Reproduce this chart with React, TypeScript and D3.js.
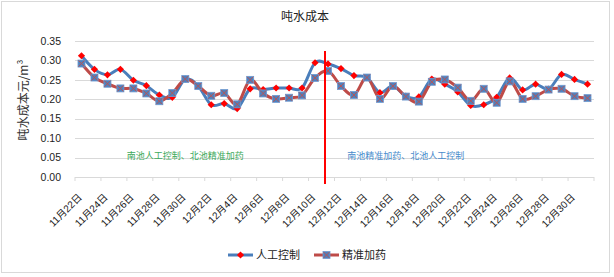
import React from "react";
import * as d3 from "d3";

const categories = [
  "11月22日","11月23日","11月24日","11月25日","11月26日","11月27日","11月28日","11月29日","11月30日",
  "12月1日","12月2日","12月3日","12月4日","12月5日","12月6日","12月7日","12月8日","12月9日","12月10日",
  "12月11日","12月12日","12月13日","12月14日","12月15日","12月16日","12月17日","12月18日","12月19日","12月20日",
  "12月21日","12月22日","12月23日","12月24日","12月25日","12月26日","12月27日","12月28日","12月29日","12月30日","12月31日",
];

// 人工控制
const manualValues = [
  0.312, 0.277, 0.263, 0.277, 0.249, 0.235, 0.211, 0.205, 0.252, 0.234,
  0.186, 0.189, 0.176, 0.227, 0.225, 0.229, 0.229, 0.229, 0.294, 0.291,
  0.279, 0.261, 0.256, 0.217, 0.234, 0.208, 0.206, 0.252, 0.239, 0.219,
  0.184, 0.186, 0.205, 0.255, 0.224, 0.239, 0.226, 0.264, 0.251, 0.239,
];

// 精准加药
const preciseValues = [
  0.292, 0.256, 0.240, 0.228, 0.228, 0.215, 0.195, 0.216, 0.252, 0.234,
  0.209, 0.216, 0.187, 0.250, 0.215, 0.201, 0.204, 0.210, 0.255, 0.273,
  0.234, 0.211, 0.256, 0.201, 0.234, 0.207, 0.194, 0.245, 0.251, 0.230,
  0.196, 0.227, 0.191, 0.246, 0.201, 0.208, 0.225, 0.227, 0.208, 0.203,
];

const yTicks = [0, 0.05, 0.1, 0.15, 0.2, 0.25, 0.3, 0.35];
const seriesNames = ["人工控制", "精准加药"];
const dividerIndex = 18.8; // red divider between 12月10日 and 12月11日
const dividerTop = 0.324;
const notes = [
  { text: "南池人工控制、北池精准加药", index: 8, value: 0.047, color: "#3daa5c" },
  { text: "南池精准加药、北池人工控制", index: 25, value: 0.047, color: "#4a8ccc" },
];

const W = 614;
const H = 277;
const left = 75;
const right = 594;
const top = 41;
const bottom = 177;

const BLUE = "#4a7ebb";
const RED = "#be4b48";

export default function App() {
  const x = d3.scaleBand<string>().domain(categories).range([left, right]).padding(0);
  const bw = x.bandwidth();
  const cx = (i: number) => left + bw * (i + 0.5);
  const y = d3.scaleLinear().domain([0, 0.35]).range([bottom, top]);

  const line = d3
    .line<number>()
    .x((_, i) => cx(i))
    .y((d) => y(d))
    .curve(d3.curveCardinal.tension(0));

  const tickBounds = categories
    .map((c, i) => ({ c, i }))
    .filter((d) => d.i % 2 === 0)
    .map((d) => x(d.c) as number)
    .concat([right]);

  const sans = "'Liberation Sans', Arial, 'Noto Sans CJK SC', sans-serif";
  const cjk = "'Noto Sans CJK SC', sans-serif";

  const diamond = (px: number, py: number, r: number) =>
    `M${px},${py - r}L${px + r},${py}L${px},${py + r}L${px - r},${py}Z`;

  const square = (px: number, py: number, key: string | number) => (
    <g key={key}>
      <rect x={px - 3.5} y={py - 3.5} width={7} height={7} fill="#4f81bd" stroke="#6f9ad0" strokeWidth={0.8} />
      <path d={`M${px - 3},${py - 3}L${px + 3},${py + 3}M${px + 3},${py - 3}L${px - 3},${py + 3}`} stroke="#c0504d" strokeWidth={0.9} />
    </g>
  );

  const legY = 255;
  const divX = Math.round(cx(dividerIndex));

  return (
    <div style={{ position: "absolute", left: 0, top: 0 }}>
      <svg width={W} height={H} style={{ display: "block", background: "#fff" }}>
        <rect x={1.5} y={1.5} width={608} height={271} fill="#fff" stroke="#d9d9d9" strokeWidth={1} />
        <text x={305} y={21} textAnchor="middle" fontFamily={cjk} fontSize={12} fill="#222">
          吨水成本
        </text>

        {yTicks.map((t) => (
          <g key={t}>
            <line x1={left} x2={right} y1={Math.round(y(t)) + 0.5} y2={Math.round(y(t)) + 0.5} stroke="#d9d9d9" strokeWidth={1} />
            <text x={61} y={y(t)} dy="0.35em" textAnchor="end" fontFamily={sans} fontSize={10.5} fill="#222">
              {t.toFixed(2)}
            </text>
          </g>
        ))}

        {tickBounds.map((tx, i) => (
          <line key={i} x1={tx} x2={tx} y1={bottom} y2={bottom + 4} stroke="#d9d9d9" strokeWidth={1} />
        ))}

        {categories.map((c, i) =>
          i % 2 === 0 ? (
            <text
              key={c}
              transform={`translate(${cx(i) + 1},${bottom + 21}) rotate(-45)`}
              textAnchor="end"
              fontFamily={sans}
              fontSize={10}
              fill="#222"
            >
              {c}
            </text>
          ) : null
        )}

        <text
          transform={`translate(24,100) rotate(-90)`}
          textAnchor="middle"
          dy="0.35em"
          fontFamily={cjk}
          fontSize={12}
          fill="#333"
        >
          吨水成本元/m³
        </text>

        {notes.map((n) => (
          <text key={n.text} x={cx(n.index)} y={y(n.value)} textAnchor="middle" fontFamily={cjk} fontSize={9} fill={n.color}>
            {n.text}
          </text>
        ))}

        <path d={line(manualValues) || ""} fill="none" stroke={BLUE} strokeWidth={3} strokeLinejoin="round" />
        {manualValues.map((v, i) => (
          <path key={i} d={diamond(cx(i), y(v), 3.6)} fill="#ff0000" />
        ))}

        <path d={line(preciseValues) || ""} fill="none" stroke={RED} strokeWidth={3} strokeLinejoin="round" />
        {preciseValues.map((v, i) => square(cx(i), y(v), i))}

        <line x1={divX} x2={divX} y1={y(dividerTop)} y2={bottom + 7} stroke="#ff0000" strokeWidth={2} />

        {/* legend */}
        <g>
          <line x1={228} x2={253} y1={legY} y2={legY} stroke={BLUE} strokeWidth={3} />
          <path d={diamond(240.5, legY, 3.6)} fill="#ff0000" />
          <text x={256} y={legY} dy="0.36em" fontFamily={cjk} fontSize={11} fill="#222">
            {seriesNames[0]}
          </text>
          <line x1={314} x2={339} y1={legY} y2={legY} stroke={RED} strokeWidth={3} />
          {square(326.5, legY, "leg")}
          <text x={342} y={legY} dy="0.36em" fontFamily={cjk} fontSize={11} fill="#222">
            {seriesNames[1]}
          </text>
        </g>
      </svg>
    </div>
  );
}
